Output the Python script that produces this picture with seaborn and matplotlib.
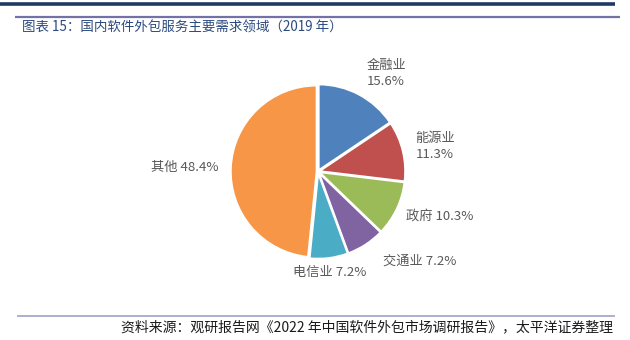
import matplotlib
matplotlib.use("Agg")
import matplotlib.pyplot as plt
import seaborn as sns
import numpy as np
from matplotlib.lines import Line2D

sns.set_theme(style="white")
plt.rcParams['font.family'] = ['Noto Sans CJK SC', 'DejaVu Sans']

# Demand sectors for domestic software outsourcing, 2019 (%)
sectors = ["金融业", "能源业", "政府", "交通业", "电信业", "其他"]
shares = [15.6, 11.3, 10.3, 7.2, 7.2, 48.4]
colors = ["#4F81BD", "#C0504D", "#9BBB59", "#8064A2", "#4BACC6", "#F79646"]

title = "图表 15：国内软件外包服务主要需求领域（2019 年）"
source = "资料来源：观研报告网《2022 年中国软件外包市场调研报告》，太平洋证券整理"

W, H = 630, 340
fig = plt.figure(figsize=(W / 100, H / 100), dpi=100)
fig.patch.set_facecolor("white")

# header / footer rules
def hline(y, x0, x1, color, lw):
    fig.add_artist(Line2D([x0 / W, x1 / W], [1 - y / H, 1 - y / H],
                          color=color, lw=lw, solid_capstyle="butt"))

hline(4, 0, 615, "#1F3864", 2.6)
hline(16.5, 15, 620, "#7272A6", 1.6)
hline(316, 17, 615, "#A0A0C8", 1.2)

fig.text(22 / W, 1 - 28 / H, title, fontsize=9.7, color="#2B4A7E",
         va="center", ha="left")
fig.text(613 / W, 1 - 327 / H, source, fontsize=10, color="#1A1A1A",
         va="center", ha="right", style="italic")

# pie axes: 1 data unit = 86 px
cx, cy, r = 318, 171.5, 86
span = 2.0
ax = fig.add_axes([(cx - span * r) / W, (H - cy - span * r) / H,
                   2 * span * r / W, 2 * span * r / H])

wedges, _ = ax.pie(shares, colors=colors, startangle=90, counterclock=False,
                   radius=1, explode=[0.015] * len(shares),
                   wedgeprops=dict(edgecolor="white", linewidth=1.5))
ax.set_xlim(-span, span)
ax.set_ylim(-span, span)
ax.axis("off")

# label placement: (radius, angle tweak in degrees, two-line?)
layout = {
    "金融业": (1.39, -6.7, True),
    "能源业": (1.39, -1.4, True),
    "政府": (1.51, 5.4, False),
    "交通业": (1.58, 15.6, False),
    "电信业": (1.18, -0.4, False),
    "其他": (1.55, 1.0, False),
}
for w, name, val in zip(wedges, sectors, shares):
    mid = np.deg2rad((w.theta1 + w.theta2) / 2 + layout[name][1])
    rad = layout[name][0]
    x, y = rad * np.cos(mid), rad * np.sin(mid)
    sep = "\n" if layout[name][2] else " "
    ax.text(x, y, f"{name}{sep}{val:.1f}%", ha="center", va="center",
            fontsize=9.5, color="#595959", linespacing=1.35)

fig.savefig("out.png", dpi=100, facecolor="white")
